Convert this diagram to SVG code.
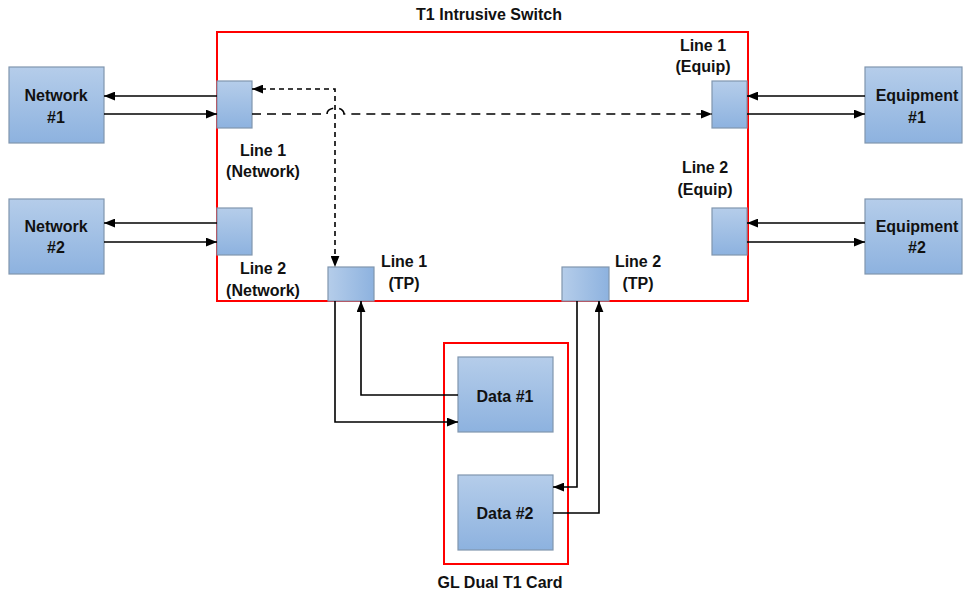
<svg xmlns="http://www.w3.org/2000/svg" width="963" height="592" viewBox="0 0 963 592">
<defs>
<linearGradient id="gv" x1="0" y1="0" x2="0" y2="1"><stop offset="0" stop-color="#b5cdea"/><stop offset="1" stop-color="#8db2df"/></linearGradient>
<linearGradient id="gh" x1="0" y1="0" x2="1" y2="0"><stop offset="0" stop-color="#b5cdea"/><stop offset="1" stop-color="#8db2df"/></linearGradient>
<marker id="ar" viewBox="0 0 10 8" refX="10" refY="4" markerWidth="11" markerHeight="9" markerUnits="userSpaceOnUse" orient="auto-start-reverse"><path d="M0,0 L10,4 L0,8 Z" fill="#000"/></marker>
</defs>
<style>
.box{fill:url(#gv);stroke:#8096ae;stroke-width:1.2}
.boxh{fill:url(#gh);stroke:#8096ae;stroke-width:1.2}
.red{fill:none;stroke:#ff0000;stroke-width:2}
text{font-family:"Liberation Sans",Arial,sans-serif;font-weight:bold;font-size:16px;fill:#111;text-anchor:middle}
.c{fill:none;stroke:#000;stroke-width:1.6}
.d1{stroke-dasharray:9,6}
.d2{stroke-dasharray:5,4}
</style>
<rect width="963" height="592" fill="#fff"/>
<g id="switch">
<rect class="red" x="217" y="32" width="531" height="269"/>
<text x="489" y="20">T1 Intrusive Switch</text>
</g>
<g id="card">
<rect class="red" x="444" y="343" width="124" height="221"/>
<text x="500" y="588">GL Dual T1 Card</text>
</g>
<g id="network1"><rect class="box" x="9" y="67" width="95" height="76"/><text x="56" y="101">Network</text><text x="56" y="123">#1</text></g>
<g id="network2"><rect class="box" x="9" y="199" width="95" height="75"/><text x="56" y="232">Network</text><text x="56" y="253">#2</text></g>
<g id="equipment1"><rect class="box" x="865" y="67" width="97" height="76"/><text x="917" y="101">Equipment</text><text x="917" y="123">#1</text></g>
<g id="equipment2"><rect class="box" x="865" y="199" width="97" height="75"/><text x="917" y="232">Equipment</text><text x="917" y="253">#2</text></g>
<g id="line1net"><rect class="box" x="217" y="81" width="35" height="47"/><text x="263" y="156">Line 1</text><text x="263" y="177">(Network)</text></g>
<g id="line2net"><rect class="box" x="217" y="208" width="35" height="47"/><text x="263" y="274">Line 2</text><text x="263" y="296">(Network)</text></g>
<g id="line1equip"><rect class="box" x="712" y="81" width="35" height="47"/><text x="703" y="51">Line 1</text><text x="703" y="72">(Equip)</text></g>
<g id="line2equip"><rect class="box" x="712" y="208" width="35" height="47"/><text x="705" y="173">Line 2</text><text x="705" y="195">(Equip)</text></g>
<g id="line1tp"><rect class="boxh" x="328" y="267" width="46" height="34"/><text x="404" y="267">Line 1</text><text x="404" y="289">(TP)</text></g>
<g id="line2tp"><rect class="boxh" x="562" y="267" width="47" height="34"/><text x="638" y="267">Line 2</text><text x="638" y="289">(TP)</text></g>
<g id="data1"><rect class="box" x="458" y="357" width="95" height="75"/><text x="505" y="402">Data #1</text></g>
<g id="data2"><rect class="box" x="458" y="475" width="95" height="75"/><text x="505" y="519">Data #2</text></g>
<g id="connectors">
<path class="c" d="M217,96 H104" marker-end="url(#ar)"/>
<path class="c" d="M104,114 H217" marker-end="url(#ar)"/>
<path class="c" d="M217,223 H104" marker-end="url(#ar)"/>
<path class="c" d="M104,242 H217" marker-end="url(#ar)"/>
<path class="c" d="M865,96 H747" marker-end="url(#ar)"/>
<path class="c" d="M747,114 H865" marker-end="url(#ar)"/>
<path class="c" d="M865,223 H747" marker-end="url(#ar)"/>
<path class="c" d="M747,242 H865" marker-end="url(#ar)"/>
<path class="c d1" d="M252,114 H327 A8.5,6 0 0 1 344,114 H712" marker-end="url(#ar)"/>
<path class="c d2" d="M252,89 H335 V267" marker-start="url(#ar)" marker-end="url(#ar)"/>
<path class="c" d="M335,301 V422 H458" marker-end="url(#ar)"/>
<path class="c" d="M458,395 H361 V301" marker-end="url(#ar)"/>
<path class="c" d="M577,301 V487 H553" marker-end="url(#ar)"/>
<path class="c" d="M553,513 H599 V301" marker-end="url(#ar)"/>
</g>
</svg>
